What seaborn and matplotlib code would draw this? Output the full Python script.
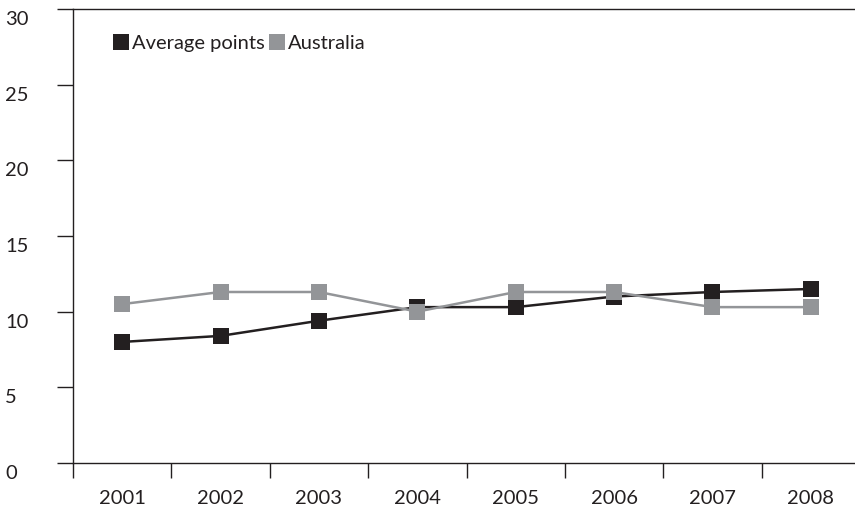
import matplotlib
matplotlib.use("Agg")
import matplotlib.pyplot as plt
import matplotlib.transforms as mtransforms
from matplotlib.lines import Line2D
import seaborn as sns
import pandas as pd

years = ["2001", "2002", "2003", "2004", "2005", "2006", "2007", "2008"]
average_points = [8.0, 8.4, 9.4, 10.3, 10.3, 11.0, 11.3, 11.5]
australia = [10.5, 11.3, 11.3, 10.0, 11.3, 11.3, 10.3, 10.3]
series_names = ["Average points", "Australia"]
y_ticks = [0, 5, 10, 15, 20, 25, 30]

black = "#231f20"
grey = "#939598"
FS = 14.5

sns.set_theme(style="white")
plt.rcParams["font.family"] = ["Lato", "DejaVu Sans"]

df = pd.DataFrame({
    "year": years * 2,
    "x": list(range(len(years))) * 2,
    "value": average_points + australia,
    "series": [series_names[0]] * len(years) + [series_names[1]] * len(years),
})

fig = plt.figure(figsize=(8.55, 5.08), dpi=100)
ax = fig.add_axes([73 / 855, 1 - 463 / 508, (860 - 73) / 855, (463 - 9) / 508])

sns.lineplot(data=df, x="x", y="value", hue="series", hue_order=series_names,
             palette=[black, grey], marker="s", markersize=11.5, markeredgewidth=0,
             linewidth=1.8, ax=ax, legend=False, sort=False)

ax.set_xlim(-0.5, 7.5)
ax.set_ylim(0, 30)
ax.set_xlabel("")
ax.set_ylabel("")

for side in ["left", "top", "bottom"]:
    ax.spines[side].set_visible(True)
    ax.spines[side].set_color(black)
    ax.spines[side].set_linewidth(1.0)
ax.spines["right"].set_visible(False)

# y ticks
ax.set_yticks(y_ticks)
ax.set_yticklabels([str(t) for t in y_ticks])
ax.tick_params(axis="y", which="major", left=True, direction="out", length=11.5, width=1.0,
               color=black, labelsize=FS, labelcolor=black, pad=0)
offset = mtransforms.ScaledTranslation(-52 / 100, -9 / 100, fig.dpi_scale_trans)
for lab in ax.get_yticklabels():
    lab.set_horizontalalignment("left")
    lab.set_transform(lab.get_transform() + offset)

# x ticks: boundaries as major ticks, labels on minor
ax.set_xticks([i - 0.5 for i in range(len(years) + 1)])
ax.set_xticklabels([""] * (len(years) + 1))
ax.set_xticks(range(len(years)), minor=True)
ax.set_xticklabels(years, minor=True)
ax.tick_params(axis="x", which="major", bottom=True, direction="out", length=11, width=1.0, color=black)
ax.tick_params(axis="x", which="minor", bottom=True, length=0, pad=19.5, labelsize=FS, labelcolor=black)

handles = [Line2D([], [], linestyle="none", marker="s", markersize=11, color=c, markeredgewidth=0)
           for c in [black, grey]]
ax.legend(handles, series_names, loc="upper left", bbox_to_anchor=(0.043, 0.96),
          frameon=False, fontsize=FS, handlelength=0.6, handletextpad=0.25,
          columnspacing=0.3, ncol=2, borderaxespad=0, labelcolor=black)

fig.savefig("out.png", dpi=100)
